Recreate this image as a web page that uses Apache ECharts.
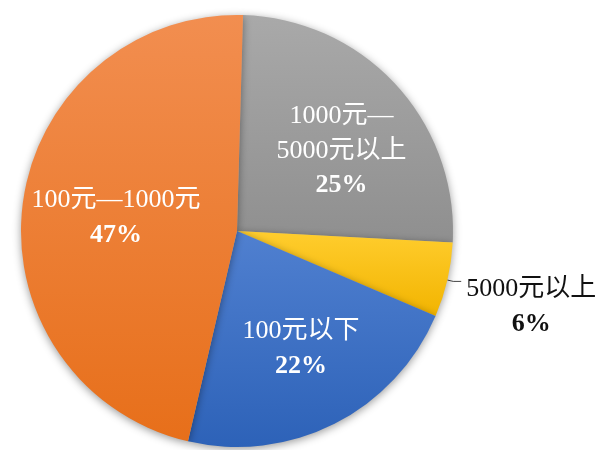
<!DOCTYPE html>
<html>
<head>
<meta charset="utf-8">
<script src="https://cdn.jsdelivr.net/npm/echarts@6/dist/echarts.min.js"></script>
<style>
  html, body { margin: 0; padding: 0; background: #fff; }
  #chart { width: 602px; height: 450px; }
</style>
</head>
<body>
<div id="chart"></div>
<script>
const names = ['1000元—\n5000元以上', '5000元以上', '100元以下', '100元—1000元']
// shares (labels round them to 25 / 6 / 22 / 47)
const values = [25.4, 5.6, 22.2, 46.8]
// top / bottom of each slice's gradient
const topColors = ['#a9a9a9', '#ffcd2e', '#5080d0', '#f28e50']
const bottomColors = ['#8f8f8f', '#f2b400', '#2d62b8', '#e76f1a']
// label nudges relative to the library's own label position
const nudges = [[23, -5], [0, 25], [14, 19], [-11, 1]]

const font = '"Liberation Serif", "DejaVu Serif", "Noto Sans CJK SC", serif'

const chart = echarts.init(document.getElementById('chart'))

const data = names.map((name, i) => {
  const item = {
    name,
    value: values[i],
    itemStyle: {
      color: new echarts.graphic.LinearGradient(0, 0, 0, 1, [
        { offset: 0, color: topColors[i] },
        { offset: 1, color: bottomColors[i] },
      ]),
    },
  }
  if (i === 1) {
    // the small slice carries its label outside with a short leader
    item.label = {
      position: 'outside',
      alignTo: 'none',
      overflow: 'none',
      color: '#111',
      align: 'center',
      formatter: '{n|{b}}\n{p|{d}%}',
      rich: {
        n: { fontSize: 26, fontFamily: font, color: '#111', lineHeight: 35, align: 'center' },
        p: { fontSize: 26, fontFamily: font, color: '#111', fontWeight: 'bold', lineHeight: 35, align: 'center' },
      },
    }
    item.labelLine = { show: true, length: 6, length2: 8, lineStyle: { color: '#444', width: 1 } }
  }
  return item
})

chart.setOption({
  animation: false,
  series: [
    {
      type: 'pie',
      center: [237, 231],
      radius: 216,
      startAngle: 88.4,
      clockwise: true,
      percentPrecision: 0,
      avoidLabelOverlap: false,
      data,
      itemStyle: {
        borderWidth: 0,
        shadowBlur: 9,
        shadowColor: 'rgba(0,0,0,0.4)',
        shadowOffsetY: 2,
      },
      label: {
        position: 'inside',
        formatter: '{n|{b}}\n{p|{d}%}',
        rich: {
          n: { fontSize: 26, fontFamily: font, color: '#fff', lineHeight: 35, align: 'center' },
          p: { fontSize: 26, fontFamily: font, color: '#fff', fontWeight: 'bold', lineHeight: 35, align: 'center' },
        },
      },
      labelLine: { show: false },
      labelLayout: (params) => {
        const d = nudges[params.dataIndex]
        return { dx: d[0], dy: d[1] }
      },
    },
  ],
})
</script>
</body>
</html>
